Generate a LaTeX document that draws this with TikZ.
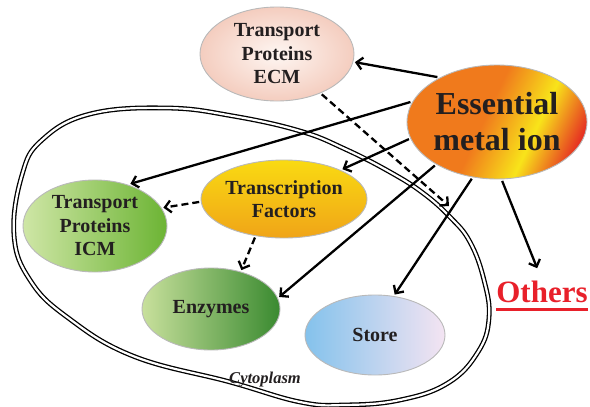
\documentclass[tikz,border=0pt]{standalone}
\usepackage{fontspec}
\setmainfont{Liberation Serif}
\usetikzlibrary{shapes.geometric,arrows.meta}

\definecolor{txtdark}{HTML}{231F20}
\definecolor{ecmlight}{HTML}{FEF6F2}
\definecolor{ecmdark}{HTML}{F4CDBF}
\definecolor{metalorange}{HTML}{F07A1C}
\definecolor{metalyellow}{HTML}{F8E41A}
\definecolor{metalred}{HTML}{E63222}
\definecolor{tfyellow}{HTML}{F9DA12}
\definecolor{tforange}{HTML}{F0A418}
\definecolor{icmlight}{HTML}{CFE6A6}
\definecolor{icmdark}{HTML}{6CB434}
\definecolor{enzlight}{HTML}{C8E09C}
\definecolor{enzdark}{HTML}{3A8A30}
\definecolor{storeblue}{HTML}{84C2EC}
\definecolor{storepink}{HTML}{F4E4F2}
\definecolor{othersred}{HTML}{E8202A}

\pgfdeclarehorizontalshading{metalshade}{100bp}{color(0bp)=(metalorange); color(46bp)=(metalorange); color(62bp)=(metalyellow); color(76bp)=(metalred); color(100bp)=(metalred)}

\tikzset{
  blob/.style={ellipse, draw=gray!55, line width=0.9pt, inner sep=0pt, outer sep=2pt,
    align=center, text=txtdark, font=\bfseries\fontsize{20}{23.5}\selectfont},
  link/.style={line width=2.3pt, -{Straight Barb[length=6pt,width=12pt]}},
  indirect/.style={link, dash pattern=on 7pt off 4pt},
}

\begin{document}
\begin{tikzpicture}[x=1pt,y=-1pt]
\useasboundingbox (0,0) rectangle (590,407);

% draw cell
\draw[double, double distance=2.2pt, line width=1.3pt] plot[smooth cycle, tension=0.7] coordinates {
  (14,235) (22,175) (42,140) (90,114) (167,108) (233,116) (300,131) (345,149)
  (390,172) (423,193) (450,217) (470,242) (484,280) (489,318) (478,352) (448,383)
  (400,400) (345,405) (300,402) (230,382) (133,356) (67,317) (30,280)};
\node[anchor=base, text=txtdark, font=\bfseries\itshape\fontsize{16.5}{18}\selectfont] (cyto) at (265,383) {Cytoplasm};

% draw nodes
\node[blob, minimum width=154pt, minimum height=94pt, inner color=ecmlight, outer color=ecmdark] (ecm) at (277,54) {Transport\\Proteins\\ECM};
\node[blob, minimum width=180pt, minimum height=114pt, shade, shading=metalshade, shading angle=-25,
  font=\bfseries\fontsize{32}{36}\selectfont] (metal) at (497,122) {Essential\\metal ion};
\node[blob, minimum width=138pt, minimum height=78pt, top color=tfyellow, bottom color=tforange] (tf) at (284,199) {Transcription\\Factors};
\node[blob, minimum width=144pt, minimum height=92pt, left color=icmlight, right color=icmdark] (icm) at (95,226) {Transport\\Proteins\\ICM};
\node[blob, minimum width=138pt, minimum height=82pt, left color=enzlight, right color=enzdark] (enz) at (211,309) {Enzymes};
\node[blob, minimum width=140pt, minimum height=80pt, left color=storeblue, right color=storepink] (store) at (375,335) {Store};
\node[anchor=base, inner sep=0pt, text=othersred, font=\bfseries\fontsize{31}{34}\selectfont] (others) at (542,302)
  {\vtop{\hbox{Others}\kern6pt\hrule height 3pt}};
\coordinate (ecmtip) at (449,206);

% draw arrows
\draw[link] (metal.143) -- (ecm.-6);
\draw[link] (metal.167) -- (icm.50);
\draw[link] (metal.191) -- (tf.27);
\draw[link] (metal.215) -- (enz.10);
\draw[link] (metal.246) -- (store.64);
\draw[link, shorten >=13pt] (metal.275) -- (others.north);

\draw[indirect] (ecm.-42) -- (ecmtip);
\draw[indirect] (tf.182) -- (icm.15);
\draw[indirect] (tf.233) -- (enz.52);

\end{tikzpicture}
\end{document}
